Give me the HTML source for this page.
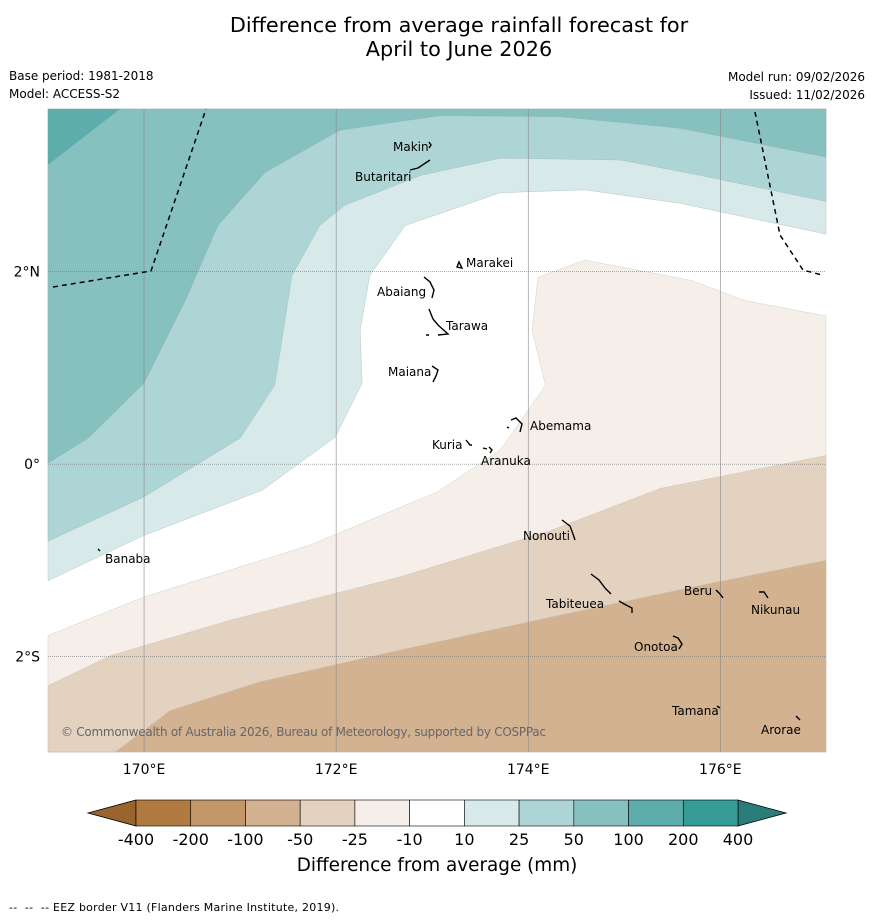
<!DOCTYPE html>
<html><head><meta charset="utf-8"><style>
body{margin:0;background:#fff;font-family:"Liberation Sans",sans-serif;}
svg text{font-family:"DejaVu Sans","Liberation Sans",sans-serif;}
</style></head><body>
<svg id="s" width="873" height="919" xmlns="http://www.w3.org/2000/svg">
<text x="459" y="32" font-size="20.8" text-anchor="middle">Difference from average rainfall forecast for</text>
<text x="459" y="56" font-size="20.8" text-anchor="middle">April to June 2026</text>
<text x="9" y="80" font-size="12">Base period: 1981-2018</text>
<text x="9" y="98" font-size="12">Model: ACCESS-S2</text>
<text x="865" y="81" font-size="12" text-anchor="end">Model run: 09/02/2026</text>
<text x="865" y="99" font-size="12" text-anchor="end">Issued: 11/02/2026</text>
<g id="map"></g>
<g id="cb"></g>
<text x="437" y="871" font-size="18.4" text-anchor="middle">Difference from average (mm)</text>
<text x="9" y="911" font-size="11" textLength="330">-- &#160;-- &#160;-- EEZ border V11 (Flanders Marine Institute, 2019).</text>
</svg>
<script>
const NS="http://www.w3.org/2000/svg";
const lonTicks=[170,172,174,176];
const latTicks=[2,0,-2];
const latLabels=["2°N","0°","2°S"];
const c10=[[169,-1.21],[170,-0.74],[171.23,-0.27],[171.99,0.28],[172.27,0.84],[172.25,1.39],[172.35,1.96],[172.72,2.48],[173.71,2.82],[174.59,2.85],[175.58,2.71],[177.1,2.39]];
const c25=[[169,-0.8],[170,-0.34],[171,0.27],[171.36,0.82],[171.54,1.96],[171.83,2.48],[172.09,2.69],[172.88,3.0],[173.71,3.18],[174.96,3.16],[175.79,3.0],[177.1,2.73]];
const c50=[[169,0.01],[169.42,0.27],[170,0.84],[170.43,1.7],[170.77,2.48],[171.26,3.03],[172.04,3.47],[173.08,3.62],[174.33,3.61],[175.58,3.49],[177.1,3.19]];
const c100=[[169,3.11],[169.75,3.69]];
const m10=[[169,-1.78],[170,-1.38],[171.73,-0.84],[173.05,-0.29],[173.71,0.15],[174.18,0.82],[174.04,1.39],[174.1,1.94],[174.59,2.12],[175.69,1.91],[176.26,1.7],[177.1,1.54]];
const m25=[[169,-2.3],[169.65,-1.99],[170.9,-1.62],[172.67,-1.17],[174.23,-0.69],[175.38,-0.25],[177.1,0.09]];
const m50=[[169.7,-2.99],[170.27,-2.56],[171.21,-2.26],[172.67,-1.93],[174.23,-1.59],[175.79,-1.26],[177.1,-1.0]];
const cbLabels=["-400","-200","-100","-50","-25","-10","10","25","50","100","200","400"];
const cbColors=["#b07a40","#c4976a","#d3b292","#e4d2c1","#f5eee9","#ffffff","#d7eae9","#aed5d5","#86c1bf","#5cadab","#349b97"];
const x0=48,x1=826,y0=109,y1=752,lonMin=169,lonMax=177.1,latMax=3.69,latMin=-2.99;
const X=l=>x0+(l-lonMin)/(lonMax-lonMin)*(x1-x0);
const Y=l=>y0+(latMax-l)/(latMax-latMin)*(y1-y0);
const map=document.getElementById('map');
function mk(t,a,p){const e=document.createElementNS(NS,t);for(const k in a)e.setAttribute(k,a[k]);(p||map).appendChild(e);return e;}
function pts(a){return a.map(p=>X(p[0]).toFixed(1)+","+Y(p[1]).toFixed(1)).join(" ");}
mk('rect',{x:x0,y:y0,width:x1-x0,height:y1-y0,fill:'#fff'});
function topRegion(line,col,name){const e=mk('polygon',{points:pts(line.concat([[lonMax,latMax],[lonMin,latMax]])),fill:col,stroke:'#9aa',"stroke-width":0.3});

}
function botRegion(line,col,name){const e=mk('polygon',{points:pts(line.concat([[lonMax,latMin],[lonMin,latMin]])),fill:col,stroke:'#bba',"stroke-width":0.3});

}
topRegion(c10,cbColors[6],'band-10-25');topRegion(c25,cbColors[7],'band-25-50');topRegion(c50,cbColors[8],'band-50-100');
const tri=mk('polygon',{points:pts(c100.concat([[lonMin,latMax]])),fill:cbColors[9]});


botRegion(m10,cbColors[4],'band-minus10-25');botRegion(m25,cbColors[3],'band-minus25-50');botRegion(m50,cbColors[2],'band-minus50-100');
lonTicks.forEach(l=>{const g=mk('line',{x1:X(l),x2:X(l),y1:y0,y2:y1,stroke:'#888',"stroke-width":0.6});


const t=mk('text',{x:X(l),y:774,"font-size":14,"text-anchor":"middle"});t.textContent=l+"°E";

});
latTicks.forEach((l,i)=>{const g=mk('line',{x1:x0,x2:x1,y1:Y(l),y2:Y(l),stroke:'#777',"stroke-width":0.7,"stroke-dasharray":"1,1"});


const t=mk('text',{x:40,y:Y(l)+5,"font-size":14,"text-anchor":"end"});t.textContent=latLabels[i];

});
const e1=mk('polyline',{points:"53,287 151,271 206,109",fill:'none',stroke:'#000',"stroke-width":1.5,"stroke-dasharray":"5,4"});


const e2=mk('polyline',{points:"755,112 780,235 803,270 822,275",fill:'none',stroke:'#000',"stroke-width":1.5,"stroke-dasharray":"5,4"});


const islands=[["Makin",393,151,"M429,142 l2,3 -2,3"],["Butaritari",355,181,"M410,170 l8,-2 6,-4 6,-4"],["Marakei",466,267,"M457,267 l2,-5 3,6 z"],["Abaiang",377,296,"M424,277 l6,5 4,8 -2,8"],["Tarawa",446,330,"M429,309 l4,10 5,6 10,9 -10,1 M426,335 l3,0"],["Maiana",388,376,"M432,366 l6,4 -2,6 -3,6"],["Abemama",530,430,"M511,420 l5,-2 6,6 -2,8 M507,427 l2,1"],["Kuria",432,449,"M466,440 l4,5 2,0"],["Aranuka",481,465,"M483,448 l4,1 M489,447 l3,3 -2,3"],["Nonouti",523,540,"M562,520 l8,6 3,8 2,6"],["Tabiteuea",546,608,"M591,574 l8,6 6,8 6,6 M619,601 l7,4 6,3 0,5"],["Beru",684,595,"M716,590 l4,4 3,4"],["Nikunau",751,614,"M759,592 l5,0 4,6"],["Onotoa",634,651,"M673,636 l5,2 4,6 -3,5"],["Tamana",672,715,"M717,706 l3,2"],["Arorae",761,734,"M796,716 l4,4"],["Banaba",105,563,"M98,549 l2,2"]];
islands.forEach(d=>{const p=mk('path',{d:d[3],fill:'none',stroke:'#000',"stroke-width":1.4});


const t=mk('text',{x:d[1],y:d[2],"font-size":12});t.textContent=d[0];

});
const cp=mk('text',{x:61,y:736,"font-size":12,fill:'#666',textLength:485});cp.textContent="© Commonwealth of Australia 2026, Bureau of Meteorology, supported by COSPPac";


const cb=document.getElementById('cb');
const cbx0=136,cbx1=738,cby=800,cbh=26,w=(cbx1-cbx0)/cbColors.length;
const la=mk('polygon',{points:`88,813 ${cbx0},${cby} ${cbx0},${cby+cbh}`,fill:'#9a642e',stroke:'#000',"stroke-width":0.8},cb);


const ra=mk('polygon',{points:`786,813 ${cbx1},${cby} ${cbx1},${cby+cbh}`,fill:'#2b7d7a',stroke:'#000',"stroke-width":0.8},cb);


cbColors.forEach((c,i)=>{const r=mk('rect',{x:cbx0+i*w,y:cby,width:w,height:cbh,fill:c,stroke:'#000',"stroke-width":0.6},cb);

});
cbLabels.forEach((l,i)=>{const t=mk('text',{x:cbx0+i*w,y:845,"font-size":16,"text-anchor":"middle"},cb);t.textContent=l;

});
</script>
</body></html>
